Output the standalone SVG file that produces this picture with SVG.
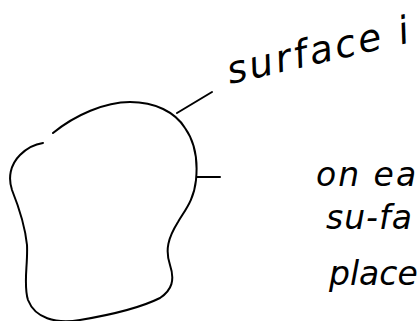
<svg xmlns="http://www.w3.org/2000/svg" width="420" height="321" viewBox="0 0 420 321">
<style>
.ink{fill:none;stroke:#000;stroke-width:2;stroke-linecap:round;stroke-linejoin:round}
.hand{font-family:"DejaVu Sans","Liberation Sans",sans-serif;font-style:italic;fill:#000}
</style>
<rect width="420" height="321" fill="#fff"/>
<g id="surface">
<path class="ink" d="M53,133 C75,115 105,102 130,102 C155,102 175,112 185,128 C195,142 198,160 196,180 C194,200 185,210 178,222 C168,238 165,250 170,265 C175,280 172,290 160,298 C140,308 110,315 80,320 C55,324 35,318 28,300 C23,285 28,265 27,245 C25,225 18,205 12,190 C8,178 10,165 20,155 C28,147 36,144 43,143"/>
</g>
<g id="connectors">
<path class="ink" d="M177,113 L212,92"/>
<path class="ink" d="M197,177 L220,177"/>
</g>
<g id="label-surface">
<text class="hand" x="230" y="84" font-size="38" textLength="186" lengthAdjust="spacing" transform="rotate(-13 230 84)">surface i</text>
</g>
<g id="label-note">
<text class="hand" x="316" y="186" font-size="33" letter-spacing="2">on ea</text>
<text class="hand" x="326" y="229" font-size="33" letter-spacing="1">su-fa</text>
<text class="hand" x="329" y="285" font-size="33">place</text>
</g>
</svg>
